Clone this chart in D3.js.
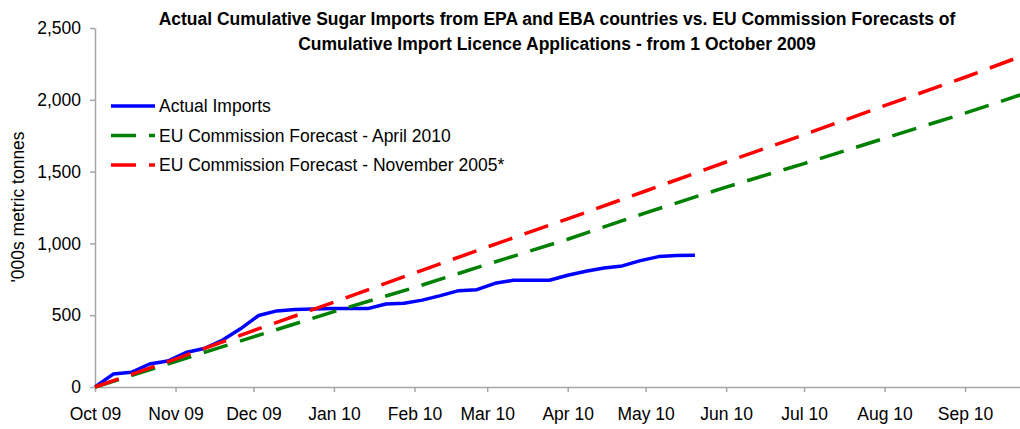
<!DOCTYPE html>
<html>
<head>
<meta charset="utf-8">
<script src="https://cdn.jsdelivr.net/npm/d3@7"></script>
<style>
  body { margin: 0; background: #fff; }
  text { font-family: "Liberation Sans", Arial, sans-serif; fill: #000; }
</style>
</head>
<body>
<div id="chart"></div>
<script>
// Actual imports, weekly from 1 October 2009 ('000 t)
const actualDates = [
  "2009-10-01", "2009-10-08", "2009-10-15", "2009-10-22", "2009-10-29",
  "2009-11-05", "2009-11-12", "2009-11-19", "2009-11-26",
  "2009-12-03", "2009-12-10", "2009-12-17", "2009-12-24", "2009-12-31",
  "2010-01-07", "2010-01-14", "2010-01-21", "2010-01-28",
  "2010-02-04", "2010-02-11", "2010-02-18", "2010-02-25",
  "2010-03-04", "2010-03-11", "2010-03-18", "2010-03-25",
  "2010-04-01", "2010-04-08", "2010-04-15", "2010-04-22", "2010-04-29",
  "2010-05-06", "2010-05-13", "2010-05-20",
];
const actualImports = [
  0, 90, 102, 160, 181,
  240, 268, 325, 405,
  498, 530, 540, 543, 546,
  546, 546, 578, 583,
  605, 636, 671, 678,
  722, 743, 743, 743,
  778, 806, 829, 843, 880,
  908, 915, 918,
];

// Commission forecasts, monthly
const forecastDates = [
  "2009-10-01", "2009-11-01", "2009-12-01", "2010-01-01", "2010-02-01", "2010-03-01",
  "2010-04-01", "2010-05-01", "2010-06-01", "2010-07-01", "2010-08-01", "2010-09-01",
  "2010-10-01",
];
const forecastApril2010 = [0, 177, 349, 525, 693, 854, 1029, 1213, 1392, 1556, 1732, 1907, 2086];
const forecastNov2005 = [0, 194, 393, 591, 794, 975, 1171, 1365, 1567, 1757, 1959, 2157, 2360];

const yTicks = [0, 500, 1000, 1500, 2000, 2500];
const titleLines = [
  "Actual Cumulative Sugar Imports from EPA and EBA countries vs. EU Commission Forecasts of",
  "Cumulative Import Licence Applications - from 1 October 2009",
];
const seriesNames = [
  "Actual Imports",
  "EU Commission Forecast - April 2010",
  "EU Commission Forecast - November 2005*",
];

const width = 1020;
const height = 429;
const parse = d3.utcParse("%Y-%m-%d");

const svg = d3
  .select("#chart")
  .append("svg")
  .attr("width", width)
  .attr("height", height)
  .attr("viewBox", [0, 0, width, height]);

// Scales
const x = d3
  .scaleUtc()
  .domain([parse("2009-10-01"), parse("2010-10-01")])
  .range([95, 1043]);
const y = d3.scaleLinear().domain([0, 2500]).range([387, 28]);

// Axes
const axisColor = "#a6a6a6";
const xAxis = svg
  .append("g")
  .attr("transform", `translate(0,${y(0)})`)
  .call(
    d3
      .axisBottom(x)
      .tickValues(forecastDates.slice(0, -1).map(parse))
      .tickFormat(d3.utcFormat("%b %y"))
      .tickSize(5)
      .tickSizeOuter(0)
  );
xAxis.select(".domain").attr("stroke", axisColor).attr("stroke-width", 1.5);
xAxis.selectAll(".tick line").attr("stroke", axisColor).attr("stroke-width", 1.5);
xAxis.selectAll(".tick text").attr("font-size", 17.5).attr("dy", 0).attr("y", 33);

const yAxis = svg
  .append("g")
  .attr("transform", `translate(${x.range()[0]},0)`)
  .call(d3.axisLeft(y).tickValues(yTicks).tickFormat(d3.format(",")).tickSize(5).tickSizeOuter(0));
yAxis.select(".domain").attr("stroke", axisColor).attr("stroke-width", 1.5);
yAxis.selectAll(".tick line").attr("stroke", axisColor).attr("stroke-width", 1.5);
yAxis.selectAll(".tick text").attr("font-size", 17.5).attr("x", -14);

// Axis title
svg
  .append("text")
  .attr("transform", "translate(24,207) rotate(-90)")
  .attr("text-anchor", "middle")
  .attr("font-size", 17.5)
  .text("'000s metric tonnes");

// Chart title
svg
  .append("g")
  .selectAll("text")
  .data(titleLines)
  .join("text")
  .attr("x", 557)
  .attr("y", (d, i) => 25 + i * 25)
  .attr("text-anchor", "middle")
  .attr("font-size", 17.5)
  .attr("font-weight", "bold")
  .text((d) => d);

// Lines
const series = [
  { name: seriesNames[0], dates: actualDates, values: actualImports, color: "#0000ff", dash: null },
  { name: seriesNames[1], dates: forecastDates, values: forecastApril2010, color: "#008000", dash: "25,13" },
  { name: seriesNames[2], dates: forecastDates, values: forecastNov2005, color: "#ff0000", dash: "25,13" },
];

const line = d3
  .line()
  .x((d) => x(d[0]))
  .y((d) => y(d[1]));

svg
  .append("g")
  .selectAll("path")
  .data(series)
  .join("path")
  .attr("fill", "none")
  .attr("stroke", (d) => d.color)
  .attr("stroke-width", 3.5)
  .attr("stroke-dasharray", (d) => d.dash)
  .attr("stroke-linejoin", "round")
  .attr("d", (d) => line(d.dates.map((s, i) => [parse(s), d.values[i]])));

// Legend
const legend = svg
  .append("g")
  .selectAll("g")
  .data(series)
  .join("g")
  .attr("transform", (d, i) => `translate(111,${106 + i * 29.5})`);

legend
  .append("line")
  .attr("x1", 0)
  .attr("x2", 44)
  .attr("stroke", (d) => d.color)
  .attr("stroke-width", 3.5)
  .attr("stroke-dasharray", (d) => d.dash);

legend
  .append("text")
  .attr("x", 48)
  .attr("dy", "0.35em")
  .attr("font-size", 17.5)
  .text((d) => d.name);
</script>
</body>
</html>
